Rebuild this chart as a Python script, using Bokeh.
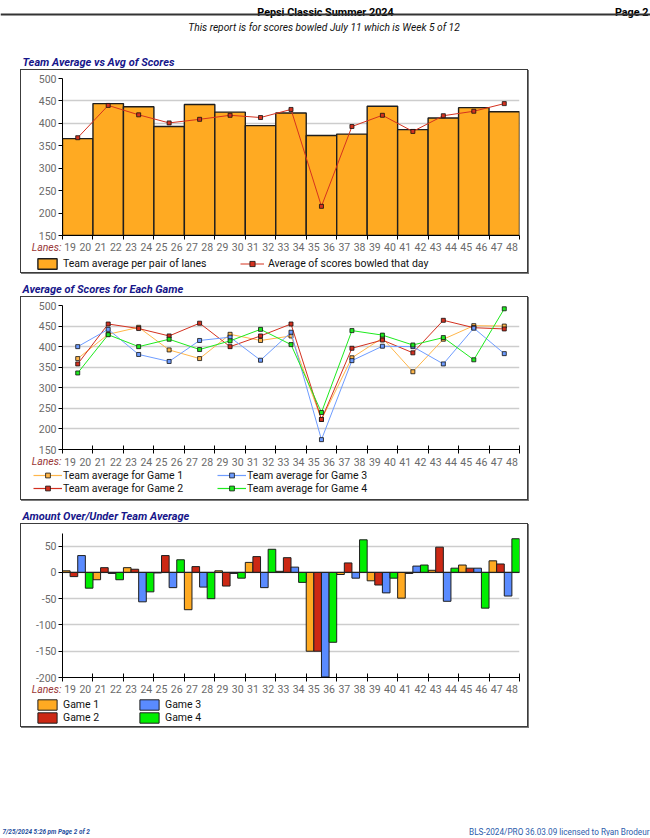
from bokeh.plotting import figure
from bokeh.models import Range1d, FixedTicker, Legend, LegendItem, Span, ColumnDataSource
from bokeh.layouts import column
from bokeh.transform import dodge
from bokeh.core.properties import value
from bokeh.embed import file_html
from bokeh.resources import INLINE

# ---------------- data ----------------
first_lanes = [19, 21, 23, 25, 27, 29, 31, 33, 35, 37, 39, 41, 43, 45, 47]
lane_labels = list(range(19, 49))
team_avg = [366, 444, 437, 393, 442, 425, 395, 423, 373, 376, 438, 386, 412, 435, 426]
day_avg = [368, 440, 419, 401, 409, 418, 413, 431, 215, 393, 418, 382, 417, 427, 444]

game1 = [371, 430, 447, 392, 371, 430, 415, 426, 223, 373, 421, 339, 418, 451, 450]
game2 = [358, 455, 444, 426, 457, 400, 426, 455, 223, 396, 416, 385, 464, 446, 443]
game3 = [400, 442, 381, 364, 415, 423, 367, 435, 174, 366, 401, 400, 358, 445, 383]
game4 = [336, 429, 400, 418, 393, 414, 442, 405, 240, 439, 428, 404, 422, 368, 492]

diff1 = [3, -14, 9, -1, -71, 3, 19, 2, -150, -4, -16, -49, 4, 14, 22]
diff2 = [-8, 9, 6, 32, 11, -26, 30, 28, -150, 18, -24, -2, 48, 8, 16]
diff3 = [32, -2, -56, -29, -28, -2, -29, 10, -199, -11, -39, 12, -55, 8, -45]
diff4 = [-30, -14, -37, 24, -50, -11, 44, -19, -133, 62, -11, 14, 8, -68, 64]

avg_ticks = [150, 200, 250, 300, 350, 400, 450, 500]
diff_ticks = [-200, -150, -100, -50, 0, 50]

header_title = "Pepsi Classic Summer 2024"
header_page = "Page 2"
subtitle = "This report is for scores bowled July 11   which is Week 5 of 12"
title1 = "Team Average vs Avg of Scores"
title2 = "Average of Scores for Each Game"
title3 = "Amount Over/Under Team Average"
lanes_word = "Lanes:"
legend1 = ["Team average per pair of lanes", "Average of scores bowled that day"]
legend2 = ["Team average for Game 1", "Team average for Game 2",
           "Team average for Game 3", "Team average for Game 4"]
legend3 = ["Game 1", "Game 2", "Game 3", "Game 4"]
footer_left = "7/25/2024  5:26 pm  Page 2 of 2"
footer_right = "BLS-2024/PRO 36.03.09 licensed to Ryan Brodeur"

# ---------------- styling ----------------
FONT = "Roboto"
NAVY = "#16168a"
TICK_GREY = "#6a6a6a"
ORANGE = "#FFAA22"
DAY_RED = "#D5321F"
LINE_COLORS = ["#FFB64A", "#D3301F", "#6E9CFF", "#1EEA1E"]
BAR_COLORS = ["#FFAA22", "#CC2814", "#5A8BFF", "#00EE00"]
NAN = float("nan")

centers = [l + 0.5 for l in first_lanes]
bounds = [l - 0.5 for l in first_lanes] + [first_lanes[-1] + 1.5]
PAGE_W = 650
BOX_W = 506
BL, BR = 41, 8                      # left / right borders inside a chart box
FRAME_W = BOX_W - BL - BR
PPL = FRAME_W / (bounds[-1] - bounds[0])   # pixels per lane
BOX_STYLE = {"box-shadow": "0 0 0 1px #3c3c3c, 1px 1px 0 1px #7a7a7a"}


def text_fig(height, y0):
    f = figure(width=PAGE_W, height=height, x_range=Range1d(0, PAGE_W),
               y_range=Range1d(y0 + height, y0), output_backend="svg",
               toolbar_location=None, min_border=0, x_axis_type=None,
               y_axis_type=None, title=None)
    f.outline_line_color = None
    f.border_fill_alpha = 0
    f.background_fill_alpha = 0
    return f


def add_text(f, x, y, s, size, style="normal", color="black", align="left",
             baseline="middle", x_offset=0):
    return f.text(x=x if isinstance(x, list) else [x], y=y if isinstance(y, list) else [y],
                  text=s if isinstance(s, list) else [s], text_font=value(FONT),
                  text_font_size=size, text_font_style=style, text_color=color,
                  text_align=align, text_baseline=baseline, x_offset=x_offset)


def chart_fig(y0, y1, ticks, top, height, in_ticks):
    p = figure(width=BOX_W, height=height, x_range=Range1d(bounds[0], bounds[-1]),
               y_range=Range1d(y0, y1), output_backend="svg", toolbar_location=None,
               min_border_left=BL, min_border_right=BR, min_border_top=top,
               min_border_bottom=6, title=None)
    p.outline_line_color = None
    p.border_fill_color = "white"
    p.background_fill_color = "white"
    p.xgrid.visible = False
    p.ygrid.grid_line_color = "#cdcdcd"
    p.ygrid.grid_line_width = 1.5
    p.yaxis.ticker = FixedTicker(ticks=ticks)
    p.yaxis.major_label_overrides = {t: str(t) for t in ticks}
    p.yaxis.major_tick_out = 4
    p.yaxis.major_tick_in = 0
    p.yaxis.major_label_standoff = 2
    p.yaxis.major_label_text_font = FONT
    p.yaxis.major_label_text_font_size = "10.5px"
    p.yaxis.major_label_text_color = TICK_GREY
    # x axis: only the pair boundaries as ticks; lane numbers are in the strip below
    p.xaxis.ticker = FixedTicker(ticks=[], minor_ticks=bounds)
    p.xaxis.major_tick_out = 0
    p.xaxis.major_tick_in = 0
    p.xaxis.minor_tick_out = 4
    p.xaxis.minor_tick_in = 4 if in_ticks else 0
    p.xaxis.minor_tick_line_color = "black"
    p.xaxis.major_label_standoff = 0
    for ax in (p.xaxis, p.yaxis):
        ax.axis_line_color = "black"
        ax.major_tick_line_color = "black"
    return p


def label_fig(height, lane_y):
    # strip under a chart: lane numbers (same horizontal scale as the chart) and legend
    f = figure(width=BOX_W, height=height,
               x_range=Range1d(bounds[0] - BL / PPL, bounds[-1] + BR / PPL),
               y_range=Range1d(height, 0), output_backend="svg", toolbar_location=None,
               min_border=0, x_axis_type=None, y_axis_type=None, title=None)
    f.outline_line_color = None
    f.border_fill_color = "white"
    f.background_fill_color = "white"
    add_text(f, lane_labels, [lane_y] * len(lane_labels), [str(v) for v in lane_labels],
             "10.5px", color=TICK_GREY, align="center")
    add_text(f, bounds[0], lane_y, lanes_word, "10.5px", "italic", color="#993838",
             align="right", x_offset=-1)
    return f


def make_legend(items, loc, gw, gh, standoff, lw, orientation="horizontal", nrows="auto", spacing=0):
    return Legend(items=items, location=loc, orientation=orientation, nrows=nrows,
                  glyph_width=gw, glyph_height=gh, label_height=gh, label_width=lw,
                  label_standoff=standoff, spacing=spacing, padding=0, margin=0,
                  border_line_color=None, background_fill_alpha=0,
                  label_text_font=FONT, label_text_font_size="10.5px",
                  label_text_color="#111111")


def boxed(a, b):
    # the strip is wrapped on its own so that its frame is not aligned with the chart's
    return column(a, column(b, spacing=0), spacing=0, margin=(0, 0, 0, 21), styles=BOX_STYLE)


# ---------------- header ----------------
f0 = text_fig(70, 0)
add_text(f0, 325, 11.5, header_title, "10.8px", "bold", baseline="alphabetic", align="center")
add_text(f0, 648, 11.5, header_page, "10.8px", "bold", baseline="alphabetic", align="right")
f0.line(x=[0, PAGE_W], y=[14, 14], line_color="#333333", line_width=2)
add_text(f0, 326, 27, subtitle, "10.2px", "italic", color="#111111", align="center")
add_text(f0, 22, 62, title1, "11px", "bold italic", color=NAVY)

# ---------------- chart 1 ----------------
p1 = chart_fig(150, 500, avg_ticks, 8, 171, False)
p1.vbar(x=centers, top=team_avg, bottom=0, width=2, fill_color=ORANGE,
        line_color="#1e1e1e", line_width=1.4)
p1.line(x=centers, y=day_avg, line_color=DAY_RED, line_width=1)
p1.scatter(x=centers, y=day_avg, marker="square", size=4, fill_color=DAY_RED,
           line_color="#111111", line_width=0.8)
l1 = label_fig(31, 5.5)
kb = l1.vbar(x=[NAN], top=[NAN], width=1, fill_color=ORANGE, line_color="#1e1e1e", line_width=1.4)
kl = l1.line(x=[NAN], y=[NAN], line_color=DAY_RED, line_width=1)
ks = l1.scatter(x=[NAN], y=[NAN], marker="square", size=4, fill_color=DAY_RED,
                line_color="#111111", line_width=0.8)
l1.add_layout(make_legend([LegendItem(label=legend1[0], renderers=[kb]),
                           LegendItem(label=legend1[1], renderers=[kl, ks])],
                          (14, 2.5), 24, 13, 4, 175, spacing=2))

# ---------------- gap 1 ----------------
g1 = text_fig(25, 272)
add_text(g1, 22, 289, title2, "11px", "bold italic", color=NAVY)

# ---------------- chart 2 ----------------
p2 = chart_fig(150, 500, avg_ticks, 8, 158, True)
for vals, c in zip([game1, game2, game3, game4], LINE_COLORS):
    p2.line(x=centers, y=vals, line_color=c, line_width=1)
    p2.scatter(x=centers, y=vals, marker="square", size=4, fill_color=c,
               line_color="#111111", line_width=0.8)
l2 = label_fig(44, 6)
items2 = []
for lab, c in zip(legend2, LINE_COLORS):
    a = l2.line(x=[NAN], y=[NAN], line_color=c, line_width=1.2)
    b = l2.scatter(x=[NAN], y=[NAN], marker="square", size=5, fill_color=c,
                   line_color="#111111", line_width=0.8)
    items2.append(LegendItem(label=lab, renderers=[a, b]))
l2.add_layout(make_legend(items2, (12, 4.3), 29, 12, 1, 154, orientation="vertical", nrows=2))

# ---------------- gap 2 ----------------
g2 = text_fig(25, 499)
add_text(g2, 22, 516, title3, "11px", "bold italic", color=NAVY)

# ---------------- chart 3 ----------------
p3 = chart_fig(-200, 74, diff_ticks, 9, 159, True)
src = ColumnDataSource(dict(x=centers, d1=diff1, d2=diff2, d3=diff3, d4=diff4))
for col, off, c in zip(["d1", "d2", "d3", "d4"], [-0.75, -0.25, 0.25, 0.75], BAR_COLORS):
    p3.vbar(x=dodge("x", off, range=p3.x_range), top=col, bottom=0, width=0.5,
            source=src, fill_color=c, line_color="#1e1e1e", line_width=1)
p3.add_layout(Span(location=0, dimension="width", line_color="#222222", line_width=1))
l3 = label_fig(43, 5.5)
items3 = []
for lab, c in zip(legend3, BAR_COLORS):
    r = l3.vbar(x=[NAN], top=[NAN], width=1, fill_color=c, line_color="#1e1e1e", line_width=1)
    items3.append(LegendItem(label=lab, renderers=[r]))
l3.add_layout(make_legend(items3, (14, 2.5), 24, 13, 4, 74, orientation="vertical", nrows=2))

# ---------------- footer ----------------
ft = text_fig(110, 726)
add_text(ft, 2, 831, footer_left, "6.4px", "bold italic", color="#1f4f9e")
add_text(ft, 649, 831, footer_right, "8.2px", "normal", color="#2b5cab", align="right")

layout = column(f0, boxed(p1, l1), g1, boxed(p2, l2), g2, boxed(p3, l3), ft, spacing=0)
open("out.html", "w").write(file_html(layout, INLINE))
